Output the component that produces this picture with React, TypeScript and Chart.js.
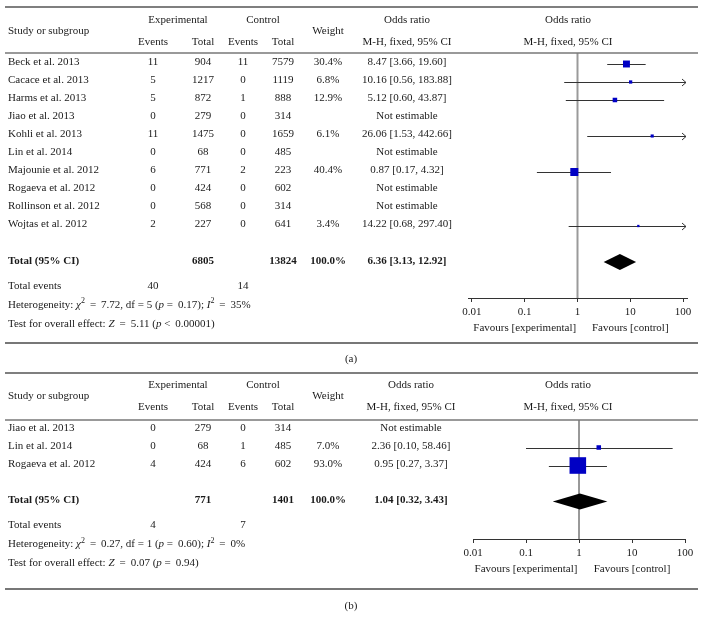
import React, { useEffect, useRef } from "react";
import { Chart, registerables } from "chart.js";

Chart.register(...registerables);

const FONT = '"Liberation Serif", "Times New Roman", serif';
const INK = "#1a1a1a";

// ---------------- Panel (a) data ----------------
const studiesA = [
  "Beck et al. 2013",
  "Cacace et al. 2013",
  "Harms et al. 2013",
  "Jiao et al. 2013",
  "Kohli et al. 2013",
  "Lin et al. 2014",
  "Majounie et al. 2012",
  "Rogaeva et al. 2012",
  "Rollinson et al. 2012",
  "Wojtas et al. 2012",
];
const expEventsA = [11, 5, 5, 0, 11, 0, 6, 0, 0, 2];
const expTotalA = [904, 1217, 872, 279, 1475, 68, 771, 424, 568, 227];
const ctrlEventsA = [11, 0, 1, 0, 0, 0, 2, 0, 0, 0];
const ctrlTotalA = [7579, 1119, 888, 314, 1659, 485, 223, 602, 314, 641];
const weightA = [30.4, 6.8, 12.9, null, 6.1, null, 40.4, null, null, 3.4];
const orA = [8.47, 10.16, 5.12, null, 26.06, null, 0.87, null, null, 14.22];
const loA = [3.66, 0.56, 0.6, null, 1.53, null, 0.17, null, null, 0.68];
const hiA = [19.6, 183.88, 43.87, null, 442.66, null, 4.32, null, null, 297.4];
const totalA = { exp: 6805, ctrl: 13824, weight: 100.0, or: 6.36, lo: 3.13, hi: 12.92, evExp: 40, evCtrl: 14 };
const hetA = { chi2: 7.72, df: 5, p: "= 0.17", i2: 35, z: 5.11, pz: "< 0.00001" };

// ---------------- Panel (b) data ----------------
const studiesB = ["Jiao et al. 2013", "Lin et al. 2014", "Rogaeva et al. 2012"];
const expEventsB = [0, 0, 4];
const expTotalB = [279, 68, 424];
const ctrlEventsB = [0, 1, 6];
const ctrlTotalB = [314, 485, 602];
const weightB = [null, 7.0, 93.0];
const orB = [null, 2.36, 0.95];
const loB = [null, 0.1, 0.27];
const hiB = [null, 58.46, 3.37];
const totalB = { exp: 771, ctrl: 1401, weight: 100.0, or: 1.04, lo: 0.32, hi: 3.43, evExp: 4, evCtrl: 7 };
const hetB = { chi2: 0.27, df: 1, p: "= 0.60", i2: 0, z: 0.07, pz: "= 0.94" };

const tickValues = [0.01, 0.1, 1, 10, 100];
const tickLabels = ["0.01", "0.1", "1", "10", "100"];

const panelA = {
  studies: studiesA, expEvents: expEventsA, expTotal: expTotalA, ctrlEvents: ctrlEventsA,
  ctrlTotal: ctrlTotalA, weight: weightA, or: orA, lo: loA, hi: hiA, total: totalA, het: hetA,
};
const panelB = {
  studies: studiesB, expEvents: expEventsB, expTotal: expTotalB, ctrlEvents: ctrlEventsB,
  ctrlTotal: ctrlTotalB, weight: weightB, or: orB, lo: loB, hi: hiB, total: totalB, het: hetB,
};

// ---------------- Layout (positions & styles) ----------------
const layoutA = {
  topRule: 7, hdrTop: 20.5, hdrMid: 31.5, hdrBot: 42, headRule: 53,
  firstRow: 64, rowStep: 18, totalIndex: 11, axisY: 298, bottomRule: 343,
  caption: 359, captionText: "(a)", orX: 407,
  plotLeft: 468, plotRight: 687, xMin: Math.pow(10, -2.0758), xMax: Math.pow(10, 2.0758),
  vlineColor: "#9a9a9a", vlineWidth: 2, sqK: 1.26,
};
const layoutB = {
  topRule: 373, hdrTop: 385, hdrMid: 396, hdrBot: 407, headRule: 420,
  firstRow: 429.5, rowStep: 18, totalIndex: 4, axisY: 539, bottomRule: 589,
  caption: 606, captionText: "(b)", orX: 411,
  plotLeft: 473, plotRight: 685, xMin: 0.01, xMax: 100,
  vlineColor: "#333333", vlineWidth: 1, sqK: 1.72,
};

const COL = { name: 8, expEv: 153, expTot: 203, ctrlEv: 243, ctrlTot: 283, weight: 328, plotHdr: 568 };
const W = 704;
const H = 627;
const EQ = " \u2009=\u2009 ";

type Seg = { t: string; it?: boolean; sup?: boolean };

function txt(ctx: CanvasRenderingContext2D, s: string, x: number, y: number, align: CanvasTextAlign = "center", bold = false) {
  ctx.font = `${bold ? "bold " : ""}11px ${FONT}`;
  ctx.textAlign = align;
  ctx.textBaseline = "middle";
  ctx.fillStyle = INK;
  ctx.fillText(s, x, y);
}

function rich(ctx: CanvasRenderingContext2D, segs: Seg[], x: number, y: number) {
  let cx = x;
  ctx.textAlign = "left";
  ctx.textBaseline = "middle";
  ctx.fillStyle = INK;
  for (const s of segs) {
    ctx.font = `${s.it ? "italic " : ""}${s.sup ? 8 : 11}px ${FONT}`;
    ctx.fillText(s.t, cx, s.sup ? y - 4 : y);
    cx += ctx.measureText(s.t).width;
  }
}

function fmtOR(or: number, lo: number, hi: number) {
  return `${or.toFixed(2)} [${lo.toFixed(2)}, ${hi.toFixed(2)}]`;
}

function rule(ctx: CanvasRenderingContext2D, y: number, color: string, width: number) {
  ctx.strokeStyle = color;
  ctx.lineWidth = width;
  ctx.beginPath();
  ctx.moveTo(5, y);
  ctx.lineTo(698, y);
  ctx.stroke();
}

function makePlugin(P: any, L: any) {
  return {
    id: "forest",
    beforeDatasetsDraw(chart: any) {
      const ctx: CanvasRenderingContext2D = chart.ctx;
      const xs = chart.scales.x;
      const ys = chart.scales.y;
      const ca = chart.chartArea;
      ctx.save();
      const x1 = xs.getPixelForValue(1);
      ctx.strokeStyle = L.vlineColor;
      ctx.lineWidth = L.vlineWidth;
      ctx.beginPath();
      ctx.moveTo(x1, ca.top);
      ctx.lineTo(x1, ca.bottom);
      ctx.stroke();

      ctx.strokeStyle = "#333";
      ctx.lineWidth = 1;
      P.or.forEach((v: number | null, i: number) => {
        if (v == null) return;
        const y = Math.round(ys.getPixelForValue(i)) + 0.5;
        const xl = xs.getPixelForValue(Math.max(P.lo[i], xs.min));
        const over = P.hi[i] > xs.max;
        const xr = over ? ca.right - 1 : xs.getPixelForValue(P.hi[i]);
        ctx.beginPath();
        ctx.moveTo(xl, y);
        ctx.lineTo(xr, y);
        ctx.stroke();
        if (over) {
          ctx.beginPath();
          ctx.moveTo(xr - 4, y - 3.5);
          ctx.lineTo(xr, y);
          ctx.lineTo(xr - 4, y + 3.5);
          ctx.stroke();
        }
      });
      ctx.restore();
    },
    afterDatasetsDraw(chart: any) {
      const ctx: CanvasRenderingContext2D = chart.ctx;
      const xs = chart.scales.x;
      const ys = chart.scales.y;
      ctx.save();
      const T = P.total;
      const yd = ys.getPixelForValue(L.totalIndex);
      ctx.fillStyle = "#000";
      ctx.beginPath();
      ctx.moveTo(xs.getPixelForValue(T.lo), yd);
      ctx.lineTo(xs.getPixelForValue(T.or), yd - 8);
      ctx.lineTo(xs.getPixelForValue(T.hi), yd);
      ctx.lineTo(xs.getPixelForValue(T.or), yd + 8);
      ctx.closePath();
      ctx.fill();
      ctx.restore();
    },
    afterDraw(chart: any) {
      const ctx: CanvasRenderingContext2D = chart.ctx;
      const xs = chart.scales.x;
      const ys = chart.scales.y;
      ctx.save();
      rule(ctx, L.topRule, "#555", 1.5);
      rule(ctx, L.headRule, "#777", 1.5);
      rule(ctx, L.bottomRule, "#777", 2);

      txt(ctx, "Study or subgroup", COL.name, L.hdrMid, "left");
      txt(ctx, "Experimental", (COL.expEv + COL.expTot) / 2, L.hdrTop);
      txt(ctx, "Control", (COL.ctrlEv + COL.ctrlTot) / 2, L.hdrTop);
      txt(ctx, "Events", COL.expEv, L.hdrBot);
      txt(ctx, "Total", COL.expTot, L.hdrBot);
      txt(ctx, "Events", COL.ctrlEv, L.hdrBot);
      txt(ctx, "Total", COL.ctrlTot, L.hdrBot);
      txt(ctx, "Weight", COL.weight, L.hdrMid);
      txt(ctx, "Odds ratio", L.orX, L.hdrTop);
      txt(ctx, "M-H, fixed, 95% CI", L.orX, L.hdrBot);
      txt(ctx, "Odds ratio", COL.plotHdr, L.hdrTop);
      txt(ctx, "M-H, fixed, 95% CI", COL.plotHdr, L.hdrBot);

      P.studies.forEach((s: string, i: number) => {
        const y = ys.getPixelForValue(i) - 1.5;
        txt(ctx, s, COL.name, y, "left");
        txt(ctx, String(P.expEvents[i]), COL.expEv, y);
        txt(ctx, String(P.expTotal[i]), COL.expTot, y);
        txt(ctx, String(P.ctrlEvents[i]), COL.ctrlEv, y);
        txt(ctx, String(P.ctrlTotal[i]), COL.ctrlTot, y);
        if (P.weight[i] != null) txt(ctx, `${P.weight[i].toFixed(1)}%`, COL.weight, y);
        txt(ctx, P.or[i] != null ? fmtOR(P.or[i], P.lo[i], P.hi[i]) : "Not estimable", L.orX, y);
      });

      const T = P.total;
      const yt = ys.getPixelForValue(L.totalIndex) - 1;
      txt(ctx, "Total (95% CI)", COL.name, yt, "left", true);
      txt(ctx, String(T.exp), COL.expTot, yt, "center", true);
      txt(ctx, String(T.ctrl), COL.ctrlTot, yt, "center", true);
      txt(ctx, `${T.weight.toFixed(1)}%`, COL.weight, yt, "center", true);
      txt(ctx, fmtOR(T.or, T.lo, T.hi), L.orX, yt, "center", true);

      txt(ctx, "Total events", COL.name, yt + 25, "left");
      txt(ctx, String(T.evExp), COL.expEv, yt + 25);
      txt(ctx, String(T.evCtrl), COL.ctrlEv, yt + 25);
      const h = P.het;
      const pOp = h.p.replace("= ", EQ.trimStart());
      rich(ctx, [
        { t: "Heterogeneity: " }, { t: "χ", it: true }, { t: "2", sup: true },
        { t: `${EQ}${h.chi2.toFixed(2)}, df = ${h.df} (` }, { t: "p", it: true },
        { t: ` ${pOp}); ` }, { t: "I", it: true }, { t: "2", sup: true }, { t: `${EQ}${h.i2}%` },
      ], COL.name, yt + 44);
      const pzOp = h.pz.startsWith("=") ? h.pz.replace("= ", EQ.trimStart()) : h.pz.replace("< ", " \u2009<\u2009 ").trimStart();
      rich(ctx, [
        { t: "Test for overall effect: " }, { t: "Z", it: true },
        { t: `${EQ}${h.z.toFixed(2)} (` }, { t: "p", it: true }, { t: ` ${pzOp})` },
      ], COL.name, yt + 63);

      txt(ctx, "Favours [experimental]", xs.getPixelForValue(0.1), L.axisY + 30);
      txt(ctx, "Favours [control]", xs.getPixelForValue(10), L.axisY + 30);

      txt(ctx, L.captionText, 351, L.caption);
      ctx.restore();
    },
  };
}

function buildConfig(P: any, L: any): any {
  const pts: any[] = [];
  const radii: number[] = [];
  P.or.forEach((v: number | null, i: number) => {
    if (v == null) return;
    pts.push({ x: v, y: i });
    const side = L.sqK * Math.sqrt(P.weight[i]);
    radii.push(side / (2 * Math.SQRT1_2));
  });
  const yMin = (L.headRule - L.firstRow) / L.rowStep;
  const yMax = (L.axisY - L.firstRow) / L.rowStep;
  return {
    type: "scatter",
    data: {
      datasets: [
        {
          data: pts,
          pointStyle: "rect",
          pointRadius: radii,
          backgroundColor: "#0000c4",
          borderWidth: 0,
        },
      ],
    },
    options: {
      animation: false,
      responsive: false,
      events: [],
      layout: { padding: { left: L.plotLeft, right: W - L.plotRight, top: L.headRule, bottom: 0 } },
      plugins: { legend: { display: false }, tooltip: { enabled: false } },
      scales: {
        x: {
          type: "logarithmic",
          position: "bottom",
          min: L.xMin,
          max: L.xMax,
          afterBuildTicks: (s: any) => {
            s.ticks = tickValues.map((v) => ({ value: v }));
          },
          afterFit: (s: any) => {
            s.height = H - L.axisY;
          },
          ticks: {
            autoSkip: false,
            maxRotation: 0,
            padding: 4,
            color: INK,
            font: { family: FONT, size: 11 },
            callback: (_v: any, idx: number) => tickLabels[idx],
          },
          grid: { drawOnChartArea: false, drawTicks: true, tickLength: 4, color: "#333", lineWidth: 1 },
          border: { display: true, color: "#333", width: 1 },
        },
        y: { type: "linear", display: false, reverse: true, min: yMin, max: yMax },
      },
    },
    plugins: [makePlugin(P, L)],
  };
}

function ForestPanel({ P, L }: { P: any; L: any }) {
  const ref = useRef<HTMLCanvasElement>(null);
  useEffect(() => {
    const chart = new Chart(ref.current as HTMLCanvasElement, buildConfig(P, L));
    return () => chart.destroy();
  }, []);
  return (
    <canvas
      ref={ref}
      width={W}
      height={H}
      style={{ position: "absolute", left: 0, top: 0, width: W, height: H }}
    />
  );
}

export default function App() {
  return (
    <div style={{ position: "fixed", left: 0, top: 0, width: W, height: H, background: "#fff" }}>
      <ForestPanel P={panelA} L={layoutA} />
      <ForestPanel P={panelB} L={layoutB} />
    </div>
  );
}
